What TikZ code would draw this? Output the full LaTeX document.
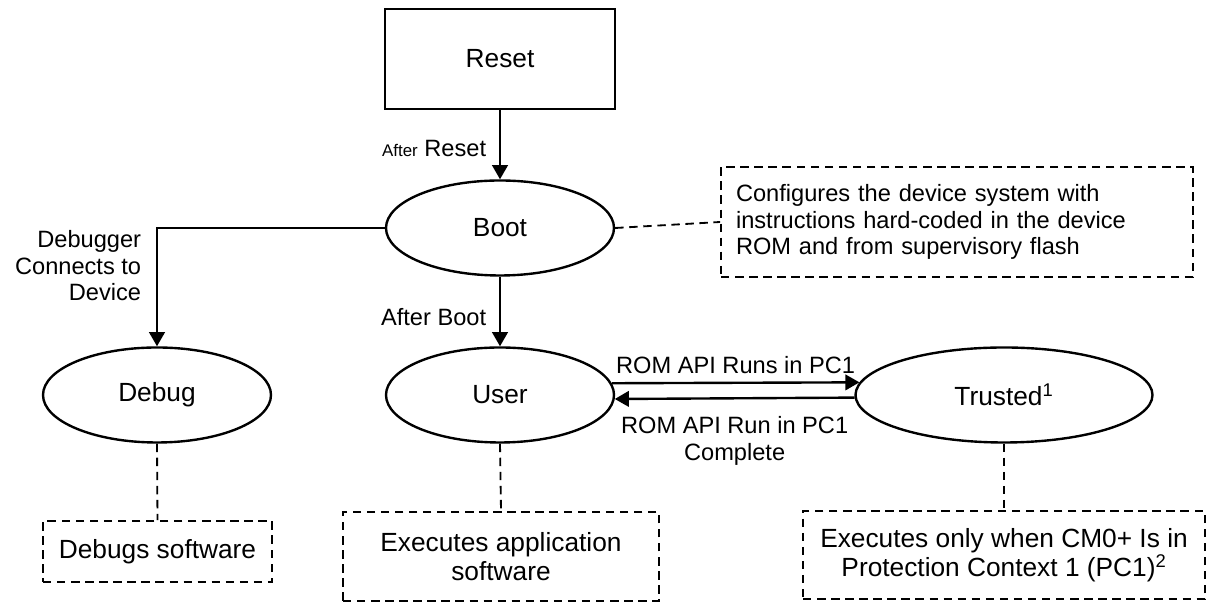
\documentclass[tikz,border=0pt]{standalone}
\usepackage{fontspec}
\setmainfont{Liberation Sans}
\usepackage{tikz}
\usetikzlibrary{arrows.meta,shapes.geometric}

\newcommand{\diagfont}{\fontsize{16.8}{18.8}\selectfont}
\newcommand{\namefont}{\fontsize{18.7}{20.7}\selectfont}
\newcommand{\smallafter}{\fontsize{12}{14}\selectfont}

\begin{document}
\begin{tikzpicture}[
    font=\diagfont,
    state/.style={draw, ellipse, line width=1.7pt, inner sep=0pt, font=\namefont, minimum width=5.7cm, minimum height=2.375cm},
    note/.style={draw, dash pattern=on 6pt off 4pt, line width=1.3pt, align=center, font=\namefont},
    flow/.style={line width=1.7pt, -{Triangle[length=10pt,width=11pt]}},
    link/.style={line width=1.3pt, dash pattern=on 6pt off 4pt}
]
    \useasboundingbox (0,0) rectangle (30.25,15.05);
 %top
    \node[draw, line width=1.7pt, font=\namefont, minimum width=5.75cm, minimum height=2.5cm] (reset) at (12.5,13.575) {Reset};
    \node[state] (boot) at (12.5,9.35) {Boot};
    \node[note, font=\diagfont, align=left, text width=11.05cm, inner xsep=0.375cm, minimum height=2.75cm] (cfg) at (23.925,9.5)
        {Configures the device system with\\instructions hard-coded in the device\\ROM and from supervisory flash};
    \draw[flow] (reset.south) -- node[pos=0.55, left=0.2cm] {{\smallafter After} Reset} (boot.north);
    \draw[link] (boot.east) -- (cfg.west);
 %middle row
    \node[state] (debug) at (3.925,5.175) {Debug};
    \node[state] (user) at (12.5,5.175) {User};
    \node[state, minimum width=7.425cm] (trusted) at (25.1,5.175) {Trusted\textsuperscript{1}};
    \draw[flow] (boot.west) -| node[pos=0.66, left=0.25cm, align=right] {Debugger\\Connects to\\Device} (debug.north);
    \draw[flow] (boot.south) -- node[pos=0.58, left=0.2cm] {After Boot} (user.north);
    \draw[flow] (user.6) -- node[midway, above=2pt] {ROM API Runs in PC1} (trusted.175.4);
    \draw[flow] (trusted.181.9) -- node[midway, below=9pt, align=center] {ROM API Run in PC1\\Complete} (user.-2.5);
 %bottom notes
    \node[note, minimum width=5.725cm, minimum height=1.525cm] (debugnote) at (3.9375,1.2625) {Debugs software};
    \node[note, minimum width=7.9cm, minimum height=2.225cm] (usernote) at (12.525,1.1375) {Executes application\\software};
    \node[note, minimum width=10.05cm, minimum height=2.2cm] (trustednote) at (25.1,1.175)
        {Executes only when CM0+ Is in\\Protection Context 1 (PC1)\textsuperscript{2}};
    \draw[link] (debug.south) -- (debugnote.north);
    \draw[link] (user.south) -- (usernote.north);
    \draw[link] (trusted.south) -- (trustednote.north);
\end{tikzpicture}
\end{document}
